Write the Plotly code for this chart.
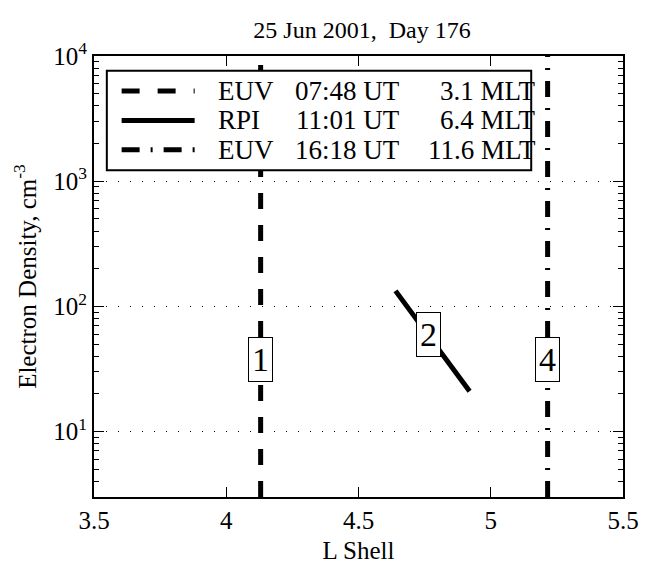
import math
import plotly.graph_objects as go

# ---- data ----
euv1_L = 4.13          # EUV 07:48 UT plasmapause L
euv2_L = 5.215         # EUV 16:18 UT plasmapause L
rpi_L = [4.64, 4.92]   # RPI 11:01 UT profile
rpi_ne = [133, 21]
y_span = [3, 10000]
box_labels = ["1", "2", "4"]
box_L = [4.13, 4.765, 5.215]
box_ne = [37.8, 59.3, 37.8]
legend_names = ["EUV", "RPI", "EUV"]
legend_ut = ["07:48 UT", "11:01 UT", "16:18 UT"]
legend_mlt = ["3.1 MLT", "6.4 MLT", "11.6 MLT"]
xticks = [3.5, 4, 4.5, 5, 5.5]
xticklabels = ["3.5", "4", "4.5", "5", "5.5"]
yticks = [10, 100, 1000, 10000]
yticklabels = ["10<sup>1</sup>", "10<sup>2</sup>", "10<sup>3</sup>", "10<sup>4</sup>"]

FONT = "Liberation Serif"
dash_style = "16px,16px"
dashdot_style = "16px,11px,2px,11px"

fig = go.Figure()
fig.add_trace(go.Scatter(x=[euv1_L, euv1_L], y=y_span, mode="lines",
                         line=dict(color="black", width=5, dash=dash_style), showlegend=False))
fig.add_trace(go.Scatter(x=rpi_L, y=rpi_ne, mode="lines",
                         line=dict(color="black", width=5), showlegend=False))
fig.add_trace(go.Scatter(x=[euv2_L, euv2_L], y=y_span, mode="lines",
                         line=dict(color="black", width=5, dash=dashdot_style), showlegend=False))

# numbered boxes
for t, xl, yl in zip(box_labels, box_L, box_ne):
    fig.add_annotation(x=xl, y=math.log10(yl), text=t, showarrow=False,
                       font=dict(family=FONT, size=34, color="black"),
                       bgcolor="white", bordercolor="black", borderwidth=1, borderpad=3)

# manual legend (paper coordinates)
L0, T0, W, H = 94, 56, 536, 452
def px(xp):
    return (xp - L0) / W
def py(yp):
    return (T0 + H - yp) / H

fig.add_shape(type="rect", xref="paper", yref="paper", x0=px(107), x1=px(537),
              y0=py(173), y1=py(71), fillcolor="white", line=dict(color="black", width=2),
              layer="above")
row_y = [92, 122, 152]
dashes = ["18px,18px", "solid", "18px,11px,2px,11px"]
for i in range(3):
    fig.add_shape(type="line", xref="paper", yref="paper", x0=px(122), x1=px(196),
                  y0=py(row_y[i]), y1=py(row_y[i]),
                  line=dict(color="black", width=5, dash=dashes[i]), layer="above")
    fig.add_annotation(xref="paper", yref="paper", x=px(218), y=py(row_y[i]), text=legend_names[i],
                       xanchor="left", yanchor="middle", showarrow=False,
                       font=dict(family=FONT, size=27, color="black"))
    fig.add_annotation(xref="paper", yref="paper", x=px(406), y=py(row_y[i]), text=legend_ut[i],
                       xanchor="right", yanchor="middle", showarrow=False,
                       font=dict(family=FONT, size=27, color="black"))
    fig.add_annotation(xref="paper", yref="paper", x=px(544), y=py(row_y[i]), text=legend_mlt[i],
                       xanchor="right", yanchor="middle", showarrow=False,
                       font=dict(family=FONT, size=27, color="black"))

minor_vals = []
for d in [1, 10, 100, 1000]:
    for k in range(2, 10):
        minor_vals.append(k * d)

fig.update_layout(
    width=651, height=572,
    margin=dict(l=94, r=21, t=56, b=64),
    paper_bgcolor="white", plot_bgcolor="white",
    font=dict(family=FONT, size=25, color="black"),
    title=dict(text="25 Jun 2001,  Day 176", x=(94 + 268) / 651, xanchor="center",
               y=1 - 30 / 572, yanchor="middle", font=dict(family=FONT, size=24)),
    xaxis=dict(range=[3.5, 5.5], tickvals=xticks, ticktext=xticklabels,
               ticks="inside", ticklen=10, tickwidth=1, tickcolor="black",
               showline=True, linecolor="black", linewidth=2, mirror="ticks",
               showgrid=False, zeroline=False,
               title=dict(text="L Shell", standoff=8, font=dict(size=25))),
    yaxis=dict(type="log", range=[0.4771, 4], tickvals=yticks, ticktext=yticklabels,
               ticks="inside", ticklen=10, tickwidth=1, tickcolor="black",
               showline=True, linecolor="black", linewidth=2, mirror="ticks",
               showgrid=True, gridcolor="black", gridwidth=1, griddash="1px,11px",
               zeroline=False,
               minor=dict(tickvals=minor_vals, ticks="inside", ticklen=5, tickcolor="black",
                          showgrid=False),
               title=dict(text="Electron Density, cm<sup>-3</sup>", standoff=10, font=dict(size=25))),
)

fig.write_html("out.html")
